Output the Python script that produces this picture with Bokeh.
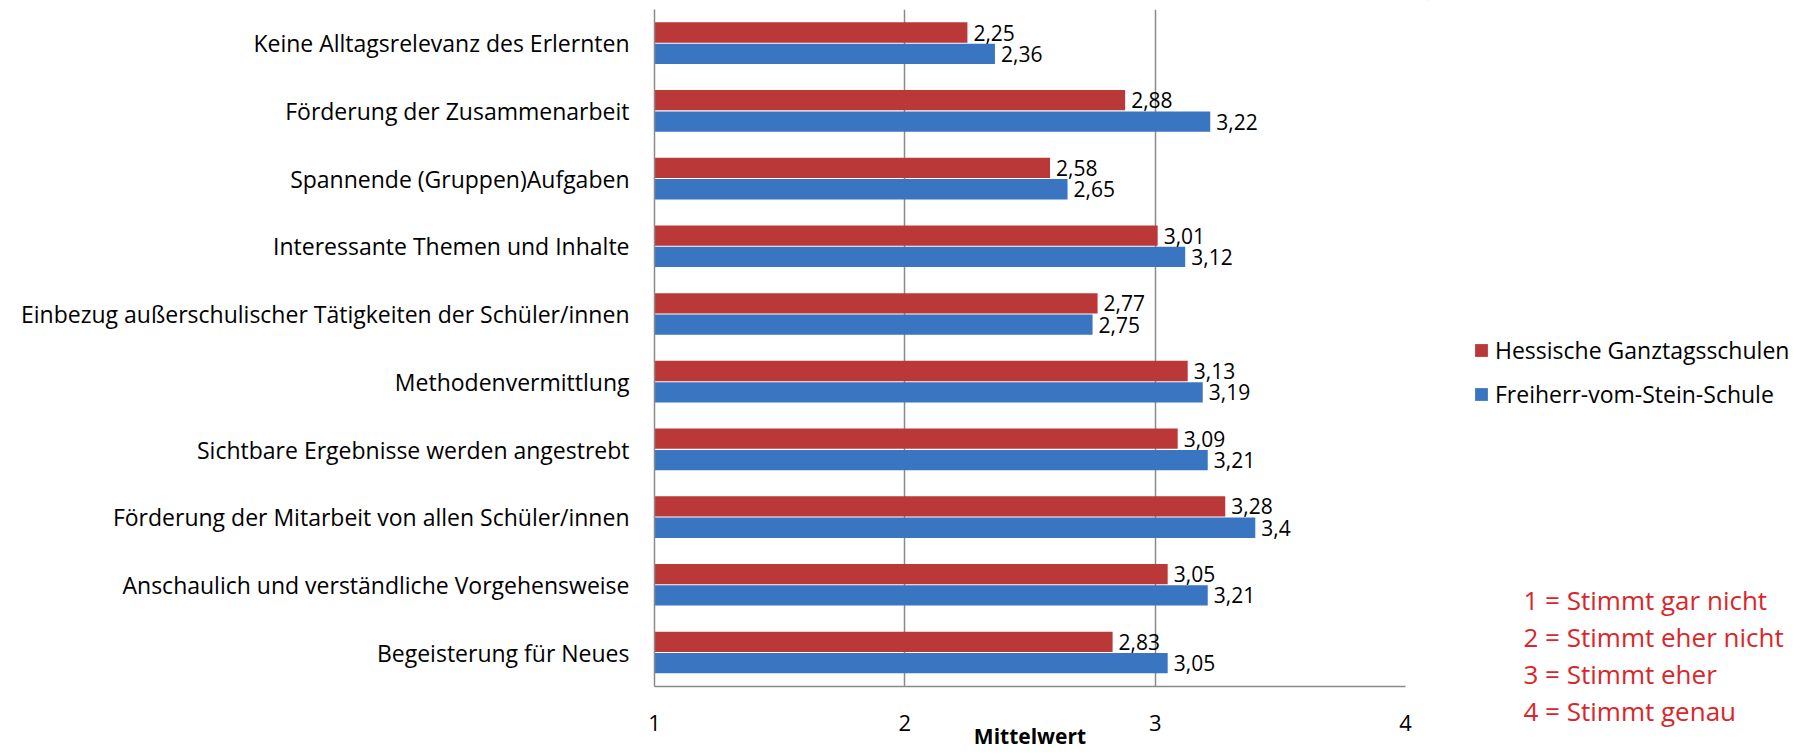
from bokeh.plotting import figure
from bokeh.models import FactorRange, Range1d, ColumnDataSource, Legend, LegendItem, Label, FixedTicker
from bokeh.transform import dodge
from bokeh.layouts import row
from bokeh.core.properties import value
from bokeh.embed import file_html
from bokeh.resources import INLINE

# ---------------- data ----------------
categories = [
    "Keine Alltagsrelevanz des Erlernten",
    "Förderung der Zusammenarbeit",
    "Spannende (Gruppen)Aufgaben",
    "Interessante Themen und Inhalte",
    "Einbezug außerschulischer Tätigkeiten der Schüler/innen",
    "Methodenvermittlung",
    "Sichtbare Ergebnisse werden angestrebt",
    "Förderung der Mitarbeit von allen Schüler/innen",
    "Anschaulich und verständliche Vorgehensweise",
    "Begeisterung für Neues",
]
hessische = [2.25, 2.88, 2.58, 3.01, 2.77, 3.13, 3.09, 3.28, 3.05, 2.83]
freiherr = [2.36, 3.22, 2.65, 3.12, 2.75, 3.19, 3.21, 3.40, 3.21, 3.05]
series_names = ["Hessische Ganztagsschulen", "Freiherr-vom-Stein-Schule"]
x_ticks = [1, 2, 3, 4]
x_title = "Mittelwert"
scale_notes = ["1 = Stimmt gar nicht", "2 = Stimmt eher nicht", "3 = Stimmt eher", "4 = Stimmt genau"]

RED = "#bb3838"
BLUE = "#3a75c2"
GRID = "#8a8a8a"
FONT = value("Open Sans")

W_MAIN, W_SIDE, H = 1428, 372, 755
FRAME_TOP, FRAME_BOTTOM = 9, 686


def de(v):
    return f"{v:g}".replace(".", ",")


src = ColumnDataSource(dict(
    cat=categories,
    red=hessische,
    blue=freiherr,
    red_lbl=[de(v) for v in hessische],
    blue_lbl=[de(v) for v in freiherr],
))

# ---------------- main chart ----------------
p = figure(
    width=W_MAIN, height=H,
    y_range=FactorRange(factors=list(reversed(categories)), range_padding=0),
    x_range=Range1d(1, 4),
    output_backend="svg", toolbar_location=None,
    min_border_left=654, min_border_right=23,
    min_border_top=FRAME_TOP, min_border_bottom=H - FRAME_BOTTOM,
)
p.frame_align = False
p.outline_line_color = None
p.background_fill_color = "white"

RED_OFF, BLUE_OFF, BAR_H = 0.16, -0.155, 0.3
p.hbar(y=dodge("cat", RED_OFF, range=p.y_range), left=1, right="red", height=BAR_H,
       fill_color=RED, line_color=None, source=src)
p.hbar(y=dodge("cat", BLUE_OFF, range=p.y_range), left=1, right="blue", height=BAR_H,
       fill_color=BLUE, line_color=None, source=src)

p.text(x="red", y=dodge("cat", RED_OFF, range=p.y_range), text="red_lbl", source=src,
       x_offset=6, text_baseline="middle", text_align="left",
       text_font=FONT, text_font_size="21px", text_color="black")
p.text(x="blue", y=dodge("cat", BLUE_OFF, range=p.y_range), text="blue_lbl", source=src,
       x_offset=6, text_baseline="middle", text_align="left",
       text_font=FONT, text_font_size="21px", text_color="black")

p.ygrid.visible = False
p.xgrid.ticker = FixedTicker(ticks=x_ticks)
p.xgrid.grid_line_color = GRID
p.xgrid.grid_line_width = 1.5

p.xaxis.ticker = FixedTicker(ticks=x_ticks)
p.xaxis.axis_line_color = GRID
p.xaxis.axis_line_width = 1.5
p.xaxis.major_tick_line_color = None
p.xaxis.minor_tick_line_color = None
p.xaxis.major_tick_out = 0
p.xaxis.major_tick_in = 0
p.xaxis.major_label_standoff = 28
p.xaxis.major_label_text_font = "Open Sans"
p.xaxis.major_label_text_font_size = "22px"
p.xaxis.major_label_text_color = "black"
p.xaxis.axis_label = x_title
p.xaxis.axis_label_standoff = -12
p.xaxis.axis_label_text_font = "Open Sans"
p.xaxis.axis_label_text_font_size = "21px"
p.xaxis.axis_label_text_font_style = "bold"
p.xaxis.axis_label_text_color = "black"

p.yaxis.axis_line_color = GRID
p.yaxis.axis_line_width = 1.5
p.yaxis.major_tick_line_color = None
p.yaxis.major_tick_out = 0
p.yaxis.major_tick_in = 0
p.yaxis.major_label_standoff = 25
p.yaxis.major_label_text_font = "Open Sans"
p.yaxis.major_label_text_font_size = "23px"
p.yaxis.major_label_text_color = "black"

# ---------------- legend / notes panel ----------------
# ranges in page pixels (frame = whole canvas)
p2 = figure(
    width=W_SIDE, height=H,
    x_range=Range1d(W_MAIN, W_MAIN + W_SIDE), y_range=Range1d(H, 0),
    output_backend="svg", toolbar_location=None,
    x_axis_location=None, y_axis_location=None,
    min_border_left=0, min_border_right=0, min_border_top=0, min_border_bottom=0,
)
p2.frame_align = False
p2.outline_line_color = None
p2.grid.visible = False

d_red = p2.hbar(y=[-1000], left=[0], right=[0], height=1, fill_color=RED, line_color=None)
d_blue = p2.hbar(y=[-1000], left=[0], right=[0], height=1, fill_color=BLUE, line_color=None)
legend = Legend(
    items=[LegendItem(label=series_names[0], renderers=[d_red]),
           LegendItem(label=series_names[1], renderers=[d_blue])],
    location=(45, 345),
    padding=0, spacing=12, glyph_width=16, glyph_height=16, label_height=16,
    label_standoff=6,
    label_text_font="Open Sans", label_text_font_size="23px", label_text_color="black",
    border_line_color=None, background_fill_alpha=0,
)
p2.add_layout(legend)

for i, note in enumerate(scale_notes):
    p2.add_layout(Label(x=1523, y=599 + 37.3 * i, text=note, text_baseline="middle",
                        text_font="Open Sans", text_font_size="26px", text_color="#d9262b"))

layout = row(p, p2)
open("out.html", "w").write(file_html(layout, INLINE))
